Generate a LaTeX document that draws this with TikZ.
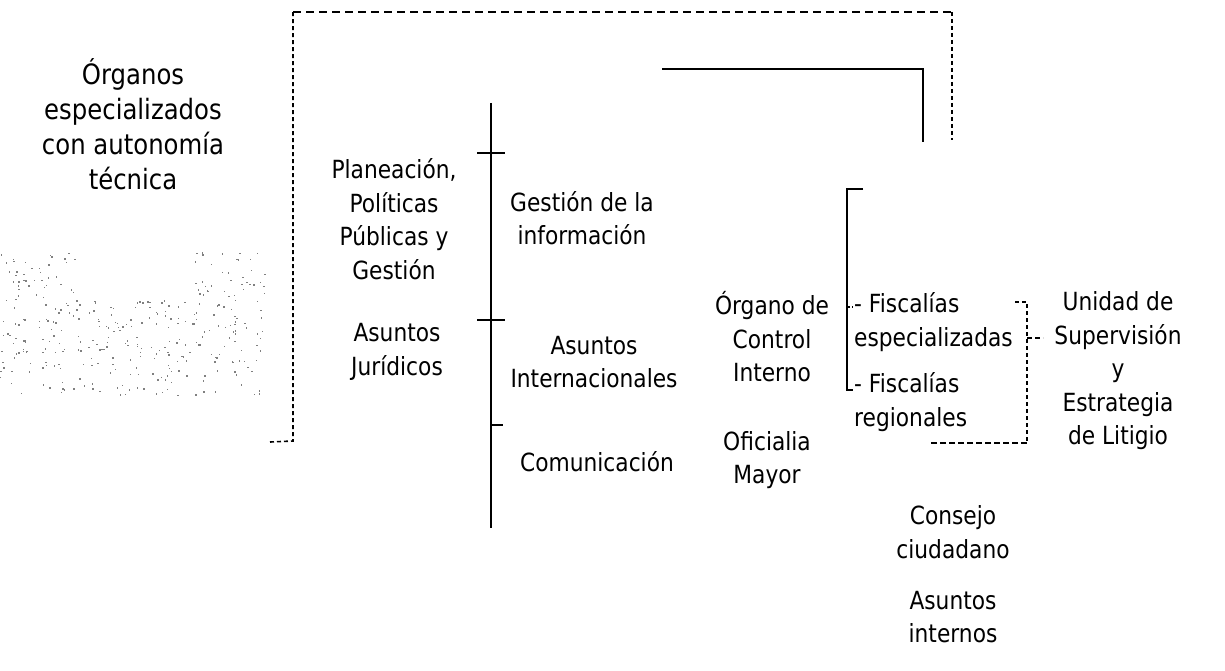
\documentclass[tikz,border=0pt]{standalone}
\usepackage{fontspec}
\setmainfont{DejaVu Sans}[FakeStretch=0.87]
\newcommand\lblfont{\fontsize{25}{33.5}\selectfont}
\newcommand\ttlfont{\fontsize{28}{35}\selectfont}
\tikzset{
  lbl/.style={font=\lblfont, align=center, inner sep=0pt},
  lbll/.style={font=\lblfont, align=left, inner sep=0pt, anchor=west},
  ttl/.style={font=\ttlfont, align=center, inner sep=0pt},
  solidline/.style={line width=1.7pt, black},
  dashline/.style={line width=1.6pt, black, dash pattern=on 8pt off 5pt},
  vdashline/.style={line width=1.6pt, black, dash pattern=on 4pt off 3pt},
  speck/.style={fill=black!50}
}
\begin{document}
\begin{tikzpicture}[x=1pt,y=-1pt]
\useasboundingbox (0,0) rectangle (1225,671);
% scanned screen speckle
\pgfmathsetseed{11}
\foreach \i in {1,...,110}{
  \pgfmathsetmacro\xx{rnd*75}\pgfmathsetmacro\yy{252+rnd*143}
  \fill[speck] (\xx,\yy) rectangle ++(1.4,1.4);}
\foreach \i in {1,...,100}{
  \pgfmathsetmacro\xx{195+rnd*70}\pgfmathsetmacro\yy{252+rnd*143}
  \fill[speck] (\xx,\yy) rectangle ++(1.4,1.4);}
\foreach \i in {1,...,130}{
  \pgfmathsetmacro\xx{75+rnd*120}\pgfmathsetmacro\yy{300+rnd*95}
  \fill[speck] (\xx,\yy) rectangle ++(1.4,1.4);}

% text nodes
\node[ttl] (title) at (133,124) {Órganos\\especializados\\con autonomía\\técnica};
\node[lbl] (plan) at (394,219) {Planeación,\\Políticas\\Públicas y\\Gestión};
\node[lbl] (jur) at (397,352) {Asuntos\\Jurídicos};
\node[lbl] (gest) at (582,218) {Gestión de la\\información};
\node[lbl] (intl) at (594,362) {Asuntos\\Internacionales};
\node[lbl] (com) at (597,462) {Comunicación};
\node[lbl] (oci) at (772,337) {Órgano de\\Control\\Interno};
\node[lbl] (ofi) at (767,460) {Oficialia\\Mayor};
\node[lbll] (fesp) at (854,322) {- Fiscalías\\especializadas};
\node[lbll] (freg) at (854,402) {- Fiscalías\\regionales};
\node[lbl] (usel) at (1118,371) {Unidad de\\Supervisión\\y\\Estrategia\\de Litigio};
\node[lbl] (cons) at (953,532) {Consejo\\ciudadano};
\node[lbl] (aint) at (953,617) {Asuntos\\internos};

% coordinates
\coordinate (tl) at (293,12);
\coordinate (tr) at (952,12);
\coordinate (lb) at (293,441);
\coordinate (lbs) at (270,442);
\coordinate (rb) at (952,140);
\coordinate (sh1) at (662,69);
\coordinate (sh2) at (923,69);
\coordinate (sh3) at (923,142);
\coordinate (vt) at (491,103);
\coordinate (vb) at (491,528);
\coordinate (bt1) at (863,189);
\coordinate (bt2) at (847,189);
\coordinate (bb1) at (847,390);
\coordinate (bb2) at (853,390);
\coordinate (bm1) at (847,307);
\coordinate (bm2) at (853,307);
\coordinate (db1) at (1015,302);
\coordinate (db2) at (1027,302);
\coordinate (db3) at (1027,443);
\coordinate (db4) at (930,443);
\coordinate (dm1) at (1027,338);
\coordinate (dm2) at (1043,338);

% dashed frame
\draw[dashline] (tl) -- (tr);
\draw[vdashline] (lbs) -- (lb) -- (tl);
\draw[vdashline] (tr) -- (rb);
% solid elbow
\draw[solidline] (sh1) -- (sh2) -- (sh3);
% main vertical with ticks
\draw[solidline] (vt) -- (vb);
\draw[solidline, line width=1.3pt] (477,153) -- (505,153);
\draw[solidline, line width=1.3pt] (477,320) -- (505,320);
\draw[solidline, line width=1.3pt] (491,425) -- (503,425);
% bracket for fiscalías
\draw[solidline] (bt1) -- (bt2) -- (bb1) -- (bb2);
\draw[dashline, dash pattern=on 3pt off 2pt] (bm1) -- (bm2);
% dashed bracket towards unidad
\draw[vdashline] (db1) -- (db2) -- (db3);
\draw[dashline, dash pattern=on 6pt off 3pt] (db3) -- (db4);
\draw[dashline, dash pattern=on 5pt off 3pt] (dm1) -- (dm2);
\end{tikzpicture}
\end{document}
